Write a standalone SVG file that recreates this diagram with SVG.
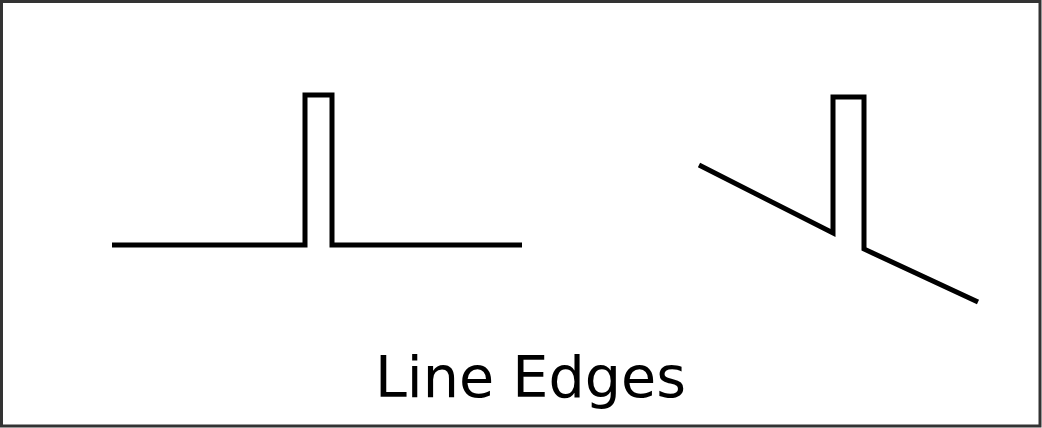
<svg xmlns="http://www.w3.org/2000/svg" width="1042" height="428" viewBox="0 0 1042 428">
<style>
.ln{fill:none;stroke:#000;stroke-width:5;stroke-linejoin:miter;stroke-linecap:butt}
.t{font-family:"DejaVu Sans",Verdana,sans-serif;font-size:57px;fill:#000}
</style>
<rect x="0" y="0" width="1042" height="428" fill="#fff"/>
<rect x="1.5" y="1.5" width="1038.5" height="424.5" fill="none" stroke="#333" stroke-width="3"/>
<g id="connectors">
<polyline id="edge-left" class="ln" points="112,245 305,245 305,95 332,95 332,245 522,245"/>
<polyline id="edge-right" class="ln" points="699,165 833,233 833,97 864,97 864,249 978,302"/>
</g>
<g id="label">
<text class="t" x="375" y="397" textLength="311" lengthAdjust="spacingAndGlyphs">Line Edges</text>
</g>
</svg>
